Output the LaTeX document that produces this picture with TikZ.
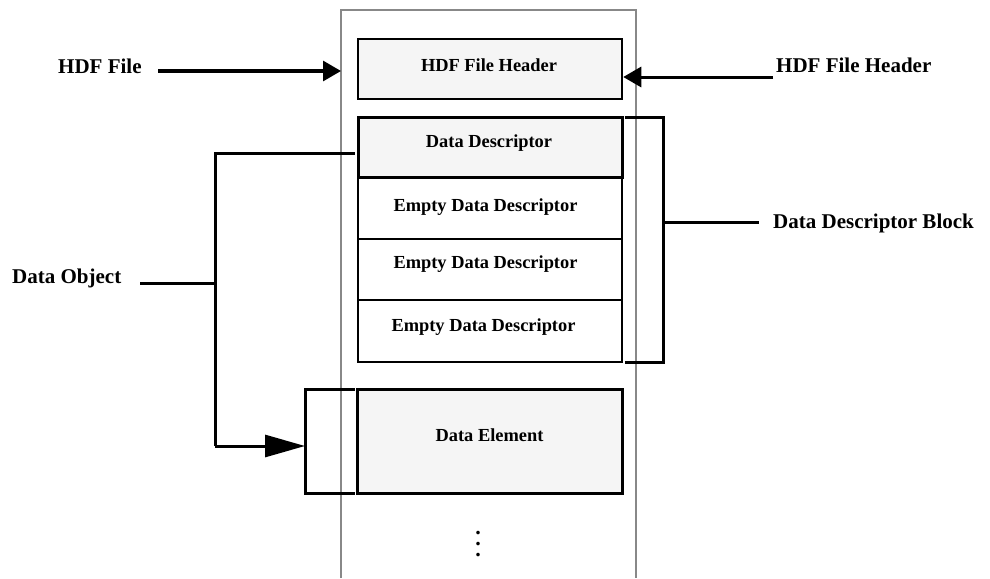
\documentclass[tikz,border=0pt]{standalone}
\usepackage{fontspec}
\setmainfont{Liberation Serif}
\usetikzlibrary{arrows.meta}
\definecolor{boxfill}{HTML}{F5F5F5}
\definecolor{framegray}{HTML}{888888}
\begin{document}
\begin{tikzpicture}[x=1pt,y=-1pt,
  box/.style={draw=black, inner sep=0pt, minimum width=264pt, anchor=center},
  boxtext/.style={anchor=base, inner sep=0pt, font=\fontsize{18.4}{22}\selectfont\bfseries},
  lbl/.style={anchor=base west, inner sep=0pt, font=\fontsize{21}{25}\selectfont\bfseries},
  conn/.style={line width=3pt, draw=black},
  tipA/.style={-{Triangle[length=18pt,width=20pt]}},
  tipB/.style={-{Triangle[length=40pt,width=22pt]}}]
\useasboundingbox (0,0) rectangle (990,578);
% file frame
\draw[framegray, line width=2.8pt] (341,578) coordinate (fbl) -- (341,10) coordinate (ftl) -- (636,10) coordinate (ftr) -- (636,578) coordinate (fbr);
% boxes
\node[box, fill=boxfill, line width=2.5pt, minimum height=60pt] (hdr) at (490,69) {};
\node[box, fill=boxfill, line width=3pt, minimum height=60pt] (dd) at (490,147) {};
\node[box, line width=2pt, minimum height=62pt] (e1) at (490,208) {};
\node[box, line width=2pt, minimum height=61pt] (e2) at (490,269.5) {};
\node[box, line width=2pt, minimum height=62pt] (e3) at (490,331) {};
\node[box, fill=boxfill, line width=3pt, minimum width=265pt, minimum height=104pt] (de) at (489.5,441) {};
% box texts
\node[boxtext] (hdrT) at (489,71) {HDF File Header};
\node[boxtext] (ddT) at (489,147) {Data Descriptor};
\node[boxtext] (e1T) at (485.5,211.5) {Empty Data Descriptor};
\node[boxtext] (e2T) at (485.5,268) {Empty Data Descriptor};
\node[boxtext] (e3T) at (483.5,331) {Empty Data Descriptor};
\node[boxtext] (deT) at (489.5,441) {Data Element};
\node[anchor=center, inner sep=0pt, align=center, font=\fontsize{22}{11}\selectfont\bfseries] (dots) at (478,544) {.\\.\\.};
% labels
\node[lbl] (hf) at (58,74) {HDF File};
\node[lbl] (hfh) at (776,73) {HDF File Header};
\node[lbl] (ddb) at (773,228) {Data Descriptor Block};
\node[lbl] (dob) at (12,283) {Data Object};
% connectors
\coordinate (hfS) at (158,71);
\coordinate (hfE) at (341,71);
\draw[conn, tipA] (hfS) -- (hfE);
\coordinate (hfhS) at (773,77);
\draw[conn, tipA] (hfhS) -- (hdr.east |- hfhS);
% data descriptor block bracket
\coordinate (bT) at (663,117);
\coordinate (bB) at (663,362);
\coordinate (bM) at (663,222);
\coordinate (bE) at (759,222);
\draw[conn] ([xshift=1pt]dd.east |- bT) -- (bT) -- (bB) -- ([xshift=2pt]e3.east |- bB);
\draw[conn] (bM) -- (bE);
% data object bracket
\coordinate (oT) at (215,153);
\coordinate (oM) at (215,283);
\coordinate (oB) at (215,446);
\coordinate (oS) at (140,283);
\draw[conn] ([xshift=-2pt]dd.west |- oT) -- (oT) -- (oB);
\draw[conn] (oS) -- (oM);
% data element bracket
\coordinate (eT) at (305,389);
\coordinate (eB) at (305,493);
\draw[conn] ([xshift=-1pt]de.west |- eT) -- (eT) -- (eB) -- ([xshift=-1pt]de.west |- eB);
\draw[conn, tipB] (oB) -- (eB |- oB);
\end{tikzpicture}
\end{document}
